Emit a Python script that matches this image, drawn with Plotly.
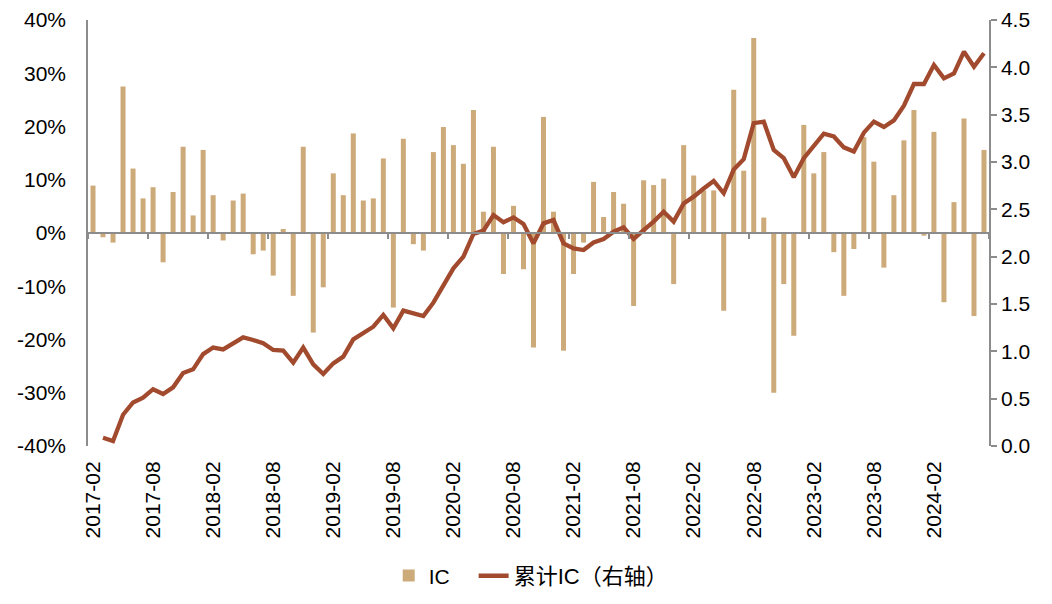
import pandas as pd
import plotly.graph_objects as go

months = [p.strftime("%Y-%m") for p in pd.period_range("2017-02", "2024-07", freq="M")]

ic_pct = [8.9, -0.8, -1.8, 27.5, 12.1, 6.5, 8.6, -5.5, 7.7, 16.2,
          3.3, 15.6, 7.1, -1.4, 6.1, 7.4, -4.0, -3.3, -8.0, 0.75,
          -11.8, 16.2, -18.7, -10.2, 11.2, 7.1, 18.7, 6.1, 6.5, 14.0,
          -14.0, 17.7, -2.1, -3.3, 15.2, 19.9, 16.5, 13.0, 23.1, 4.0,
          16.2, -7.7, 5.1, -6.8, -21.5, 21.8, 4.0, -22.1, -7.7, -1.8,
          9.6, 3.0, 7.7, 5.5, -13.7, 9.9, 9.0, 10.2, -9.6, 16.5,
          10.8, 8.0, 8.0, -14.6, 26.9, 11.7, 36.6, 2.9, -30.0, -9.6,
          -19.3, 20.3, 11.2, 15.2, -3.6, -11.8, -3.0, 18.0, 13.4, -6.5,
          7.1, 17.4, 23.1, -0.5, 19.0, -13.0, 5.8, 21.5, -15.6, 15.6]
ic = [v / 100 for v in ic_pct]

cum_ic = [None, 0.088, 0.053, 0.33, 0.46, 0.51, 0.60, 0.55, 0.62, 0.77,
          0.81, 0.97, 1.04, 1.02, 1.08, 1.148, 1.12, 1.085, 1.014, 1.007,
          0.88, 1.04, 0.863, 0.76, 0.873, 0.944, 1.127, 1.19, 1.26, 1.384,
          1.243, 1.43, 1.40, 1.373, 1.514, 1.70, 1.877, 2.0, 2.24, 2.275,
          2.44, 2.363, 2.415, 2.345, 2.14, 2.352, 2.387, 2.14, 2.088, 2.07,
          2.15, 2.187, 2.264, 2.31, 2.187, 2.28, 2.37, 2.475, 2.37, 2.563,
          2.634, 2.72, 2.80, 2.67, 2.92, 3.03, 3.41, 3.426, 3.127, 3.04,
          2.84, 3.04, 3.17, 3.30, 3.27, 3.155, 3.11, 3.31, 3.426, 3.37,
          3.44, 3.595, 3.824, 3.824, 4.025, 3.884, 3.937, 4.166, 4.007, 4.148]

left_tickvals = [0.4, 0.3, 0.2, 0.1, 0.0, -0.1, -0.2, -0.3, -0.4]
left_ticktext = ["40%", "30%", "20%", "10%", "0%", "-10%", "-20%", "-30%", "-40%"]
right_tickvals = [0.0, 0.5, 1.0, 1.5, 2.0, 2.5, 3.0, 3.5, 4.0, 4.5]
x_labels = months[::6]

BAR_COLOR = "#CDAA7A"
LINE_COLOR = "#A24A2E"
AXIS_COLOR = "#8C8C8C"
FONT = "Liberation Sans, Arial, Noto Sans CJK SC, sans-serif"

n = len(months)
positions = list(range(n))
boundary_ticks = [-0.5 + 6 * k for k in range(n // 6 + 1)]

fig = go.Figure()
fig.add_trace(go.Bar(x=months, y=ic, name="IC", marker=dict(color=BAR_COLOR, line=dict(width=0)),
                     width=0.5, yaxis="y", xaxis="x", legend="legend"))
# invisible helper trace so the zero-crossing category axis (x2) is drawn
fig.add_trace(go.Scatter(x=positions, y=ic, mode="none", xaxis="x2", yaxis="y",
                         showlegend=False, hoverinfo="skip"))
fig.add_trace(go.Scatter(x=months, y=cum_ic, name="累计IC（右轴）", mode="lines",
                         line=dict(color=LINE_COLOR, width=4.3), yaxis="y2", xaxis="x",
                         connectgaps=False, legend="legend2"))

legend_common = dict(orientation="h", y=-0.305, yanchor="middle",
                     bgcolor="rgba(0,0,0,0)")

fig.update_layout(
    width=1052, height=604,
    margin=dict(l=80, r=71, t=12, b=166, autoexpand=False),
    paper_bgcolor="white", plot_bgcolor="white",
    font=dict(family=FONT, size=21, color="black"),
    showlegend=True,
    legend=dict(x=0.407, xanchor="right", font=dict(size=21), **legend_common),
    legend2=dict(x=0.428, xanchor="left", font=dict(size=22), **legend_common),
    xaxis=dict(type="category", tickmode="array", tickvals=x_labels, ticktext=x_labels,
               tickangle=-90, showline=False, ticks="outside", ticklen=6,
               tickcolor="rgba(0,0,0,0)", showgrid=False, zeroline=False,
               range=[-0.5, n - 0.5]),
    xaxis2=dict(type="linear", overlaying="x", anchor="free", position=0.5, side="bottom",
                range=[-0.5, n - 0.5], tickmode="array", tickvals=boundary_ticks,
                showticklabels=False, ticks="outside", ticklen=5, tickcolor=AXIS_COLOR,
                tickwidth=2, showline=True, linecolor=AXIS_COLOR, linewidth=2,
                showgrid=False, zeroline=False),
    yaxis=dict(range=[-0.4, 0.4], tickmode="array", tickvals=left_tickvals,
               ticktext=left_ticktext, showline=True, linecolor=AXIS_COLOR, linewidth=1.5,
               ticks="outside", ticklen=16, tickcolor="rgba(0,0,0,0)",
               showgrid=False, zeroline=False),
    yaxis2=dict(range=[0, 4.5], overlaying="y", side="right", anchor="x", tickmode="array",
                tickvals=right_tickvals, tickformat=".1f", showline=True,
                linecolor=AXIS_COLOR, linewidth=1.5, ticks="outside", ticklen=6,
                tickcolor=AXIS_COLOR, tickwidth=1.5, showgrid=False, zeroline=False),
)

fig.write_html("out.html")
